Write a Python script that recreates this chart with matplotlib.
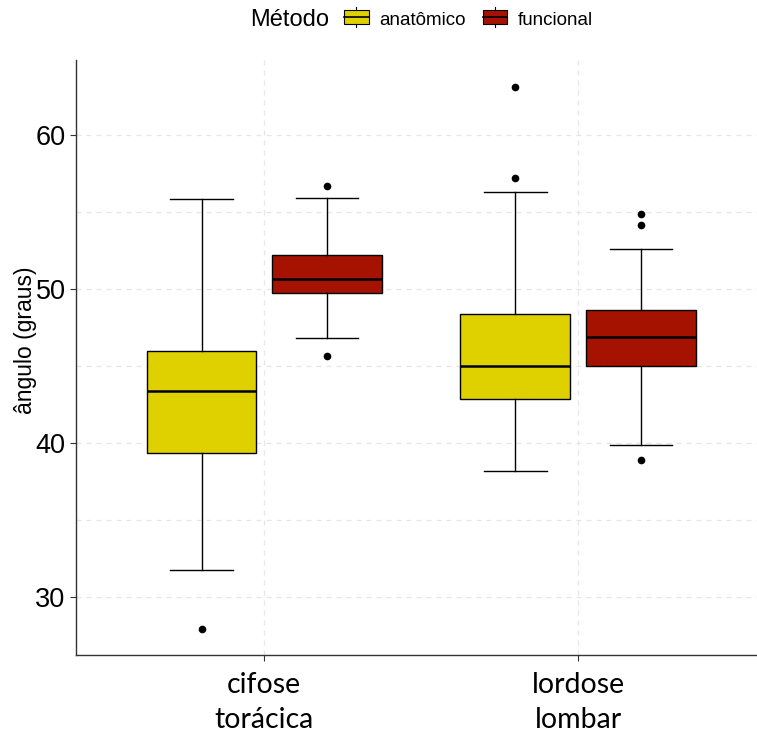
import matplotlib
matplotlib.use("Agg")
import matplotlib.pyplot as plt
from matplotlib.patches import Rectangle
from matplotlib.lines import Line2D
from matplotlib.legend_handler import HandlerBase

# five-number summaries read per group: whislo, q1, med, q3, whishi
categorias = ["cifose\ntorácica", "lordose\nlombar"]
metodos = ["anatômico", "funcional"]
cores = ["#DFD000", "#A51200"]

whislo = {"anatômico": [31.77, 38.20], "funcional": [46.82, 39.89]}
q1 = {"anatômico": [39.37, 42.88], "funcional": [49.72, 45.00]}
med = {"anatômico": [43.36, 45.00], "funcional": [50.65, 46.90]}
q3 = {"anatômico": [46.00, 48.38], "funcional": [52.19, 48.64]}
whishi = {"anatômico": [55.84, 56.28], "funcional": [55.91, 52.58]}
outliers = {
    "anatômico": [[27.94], [63.12, 57.23]],
    "funcional": [[56.71, 45.67], [54.85, 54.18, 38.90]],
}

plt.rcParams["font.family"] = ["Liberation Sans", "DejaVu Sans"]

fig = plt.figure(figsize=(7.57, 7.41), dpi=100)
ax = fig.add_axes([76 / 757, 86 / 741, 1 - 76 / 757, 595 / 741])

deslocamento = [-0.2, 0.2]
for j, (m, cor) in enumerate(zip(metodos, cores)):
    stats = []
    for i in range(len(categorias)):
        stats.append(dict(whislo=whislo[m][i], q1=q1[m][i], med=med[m][i],
                          q3=q3[m][i], whishi=whishi[m][i], fliers=outliers[m][i]))
    pos = [i + 1 + deslocamento[j] for i in range(len(categorias))]
    ax.bxp(stats, positions=pos, widths=0.35, patch_artist=True, showfliers=True,
           capwidths=0.2,
           boxprops=dict(facecolor=cor, edgecolor="black", linewidth=1.0),
           medianprops=dict(color="black", linewidth=1.8),
           whiskerprops=dict(color="black", linewidth=1.0),
           capprops=dict(color="black", linewidth=1.0),
           flierprops=dict(marker="o", markerfacecolor="black", markeredgecolor="black",
                           markersize=4.5, linestyle="none"),
           zorder=3)

ax.set_xlim(0.4, 2.57)
ax.set_ylim(26.23, 64.87)
ax.set_xticks([1, 2])
ax.set_xticklabels(categorias, fontsize=20.5, family=["Lato", "DejaVu Sans"], linespacing=1.45)
ax.set_yticks([30, 40, 50, 60])
ax.set_yticks([35, 45, 55], minor=True)
ax.tick_params(axis="y", labelsize=19.5, length=4, color="#333333", labelcolor="black")
ax.tick_params(axis="y", which="minor", length=0)
ax.tick_params(axis="x", length=4, color="#333333", pad=8)
ax.grid(True, which="both", axis="y", linestyle=(0, (4, 4)), color="#E6E6E6", linewidth=0.9)
ax.grid(True, which="major", axis="x", linestyle=(0, (4, 4)), color="#E6E6E6", linewidth=0.9)
ax.set_axisbelow(True)
for lado in ["top", "right"]:
    ax.spines[lado].set_visible(False)
for lado in ["left", "bottom"]:
    ax.spines[lado].set_color("#333333")
    ax.spines[lado].set_linewidth(1.0)
ax.set_ylabel("ângulo (graus)", fontsize=16.5)
ax.yaxis.set_label_coords(-0.058, 0.529)


class CaixaHandler(HandlerBase):
    def __init__(self, cor):
        super().__init__()
        self.cor = cor

    def create_artists(self, legend, orig_handle, xd, yd, w, h, fontsize, trans):
        ret = Rectangle((xd, yd), w, h, facecolor=self.cor, edgecolor="black",
                        linewidth=0.8, transform=trans)
        meio = Line2D([xd, xd + w], [yd + h / 2] * 2, color="black", linewidth=1.2,
                      transform=trans)
        cima = Line2D([xd + w / 2] * 2, [yd + h, yd + h + 2], color="black",
                      linewidth=0.8, transform=trans)
        baixo = Line2D([xd + w / 2] * 2, [yd - 2, yd], color="black",
                       linewidth=0.8, transform=trans)
        return [ret, meio, cima, baixo]


handles = [Rectangle((0, 0), 1, 1) for _ in metodos]
fig.text(250 / 757, 1 - 20 / 741, "Método", fontsize=17, va="center", ha="left")
fig.legend(handles, metodos, loc="center left", bbox_to_anchor=(327 / 757, 1 - 20 / 741),
           ncol=2, frameon=False, fontsize=13.5, handlelength=1.33, handleheight=0.8,
           handletextpad=0.55, columnspacing=0.9,
           handler_map={handles[0]: CaixaHandler(cores[0]), handles[1]: CaixaHandler(cores[1])})

fig.savefig("out.png", dpi=100)
